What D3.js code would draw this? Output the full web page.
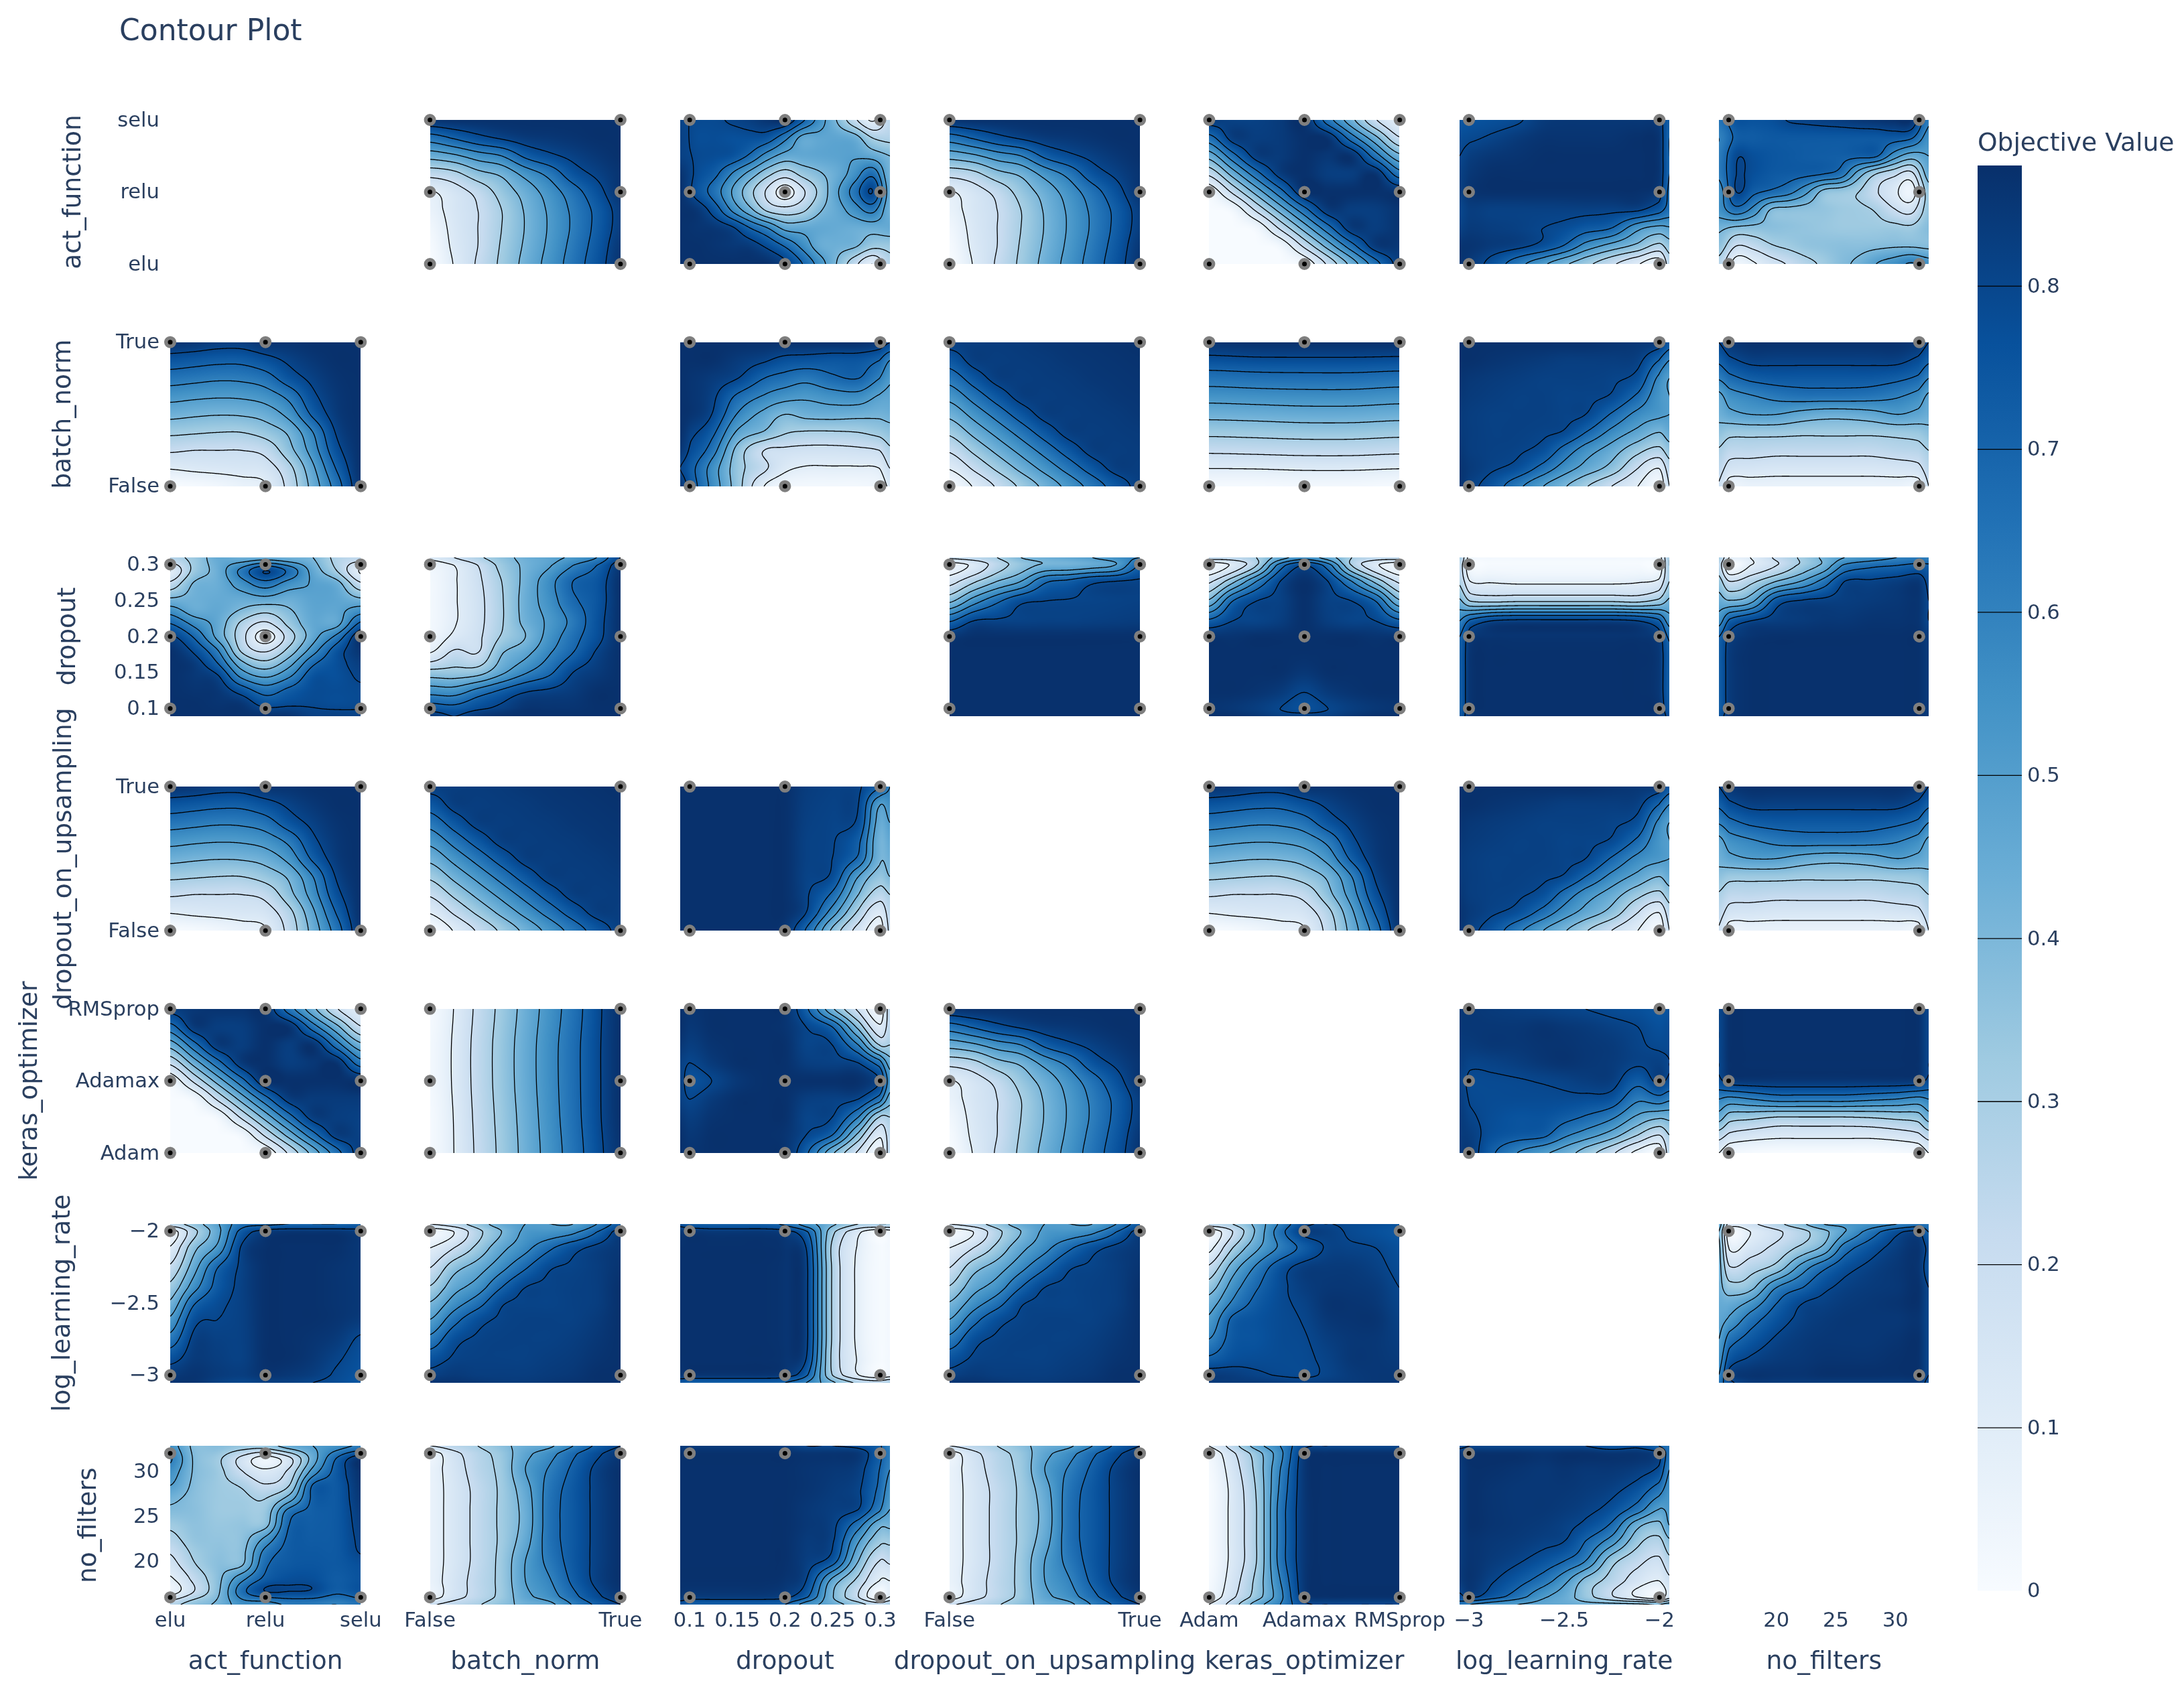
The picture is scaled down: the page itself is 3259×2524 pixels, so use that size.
<!DOCTYPE html>
<html><head><meta charset="utf-8">
<script src="https://cdnjs.cloudflare.com/ajax/libs/d3/7.8.5/d3.min.js"></script>
<style>
html,body{margin:0;padding:0;background:#fff}
#wrap{position:relative;width:3259px;height:2524px;overflow:hidden}
canvas{position:absolute}
svg{position:absolute;left:0;top:0}
text{font-family:"DejaVu Sans",sans-serif;fill:#2a3f5f}
</style></head><body><div id="wrap"></div>
<script>
const paramNames=["act_function","batch_norm","dropout","dropout_on_upsampling","keras_optimizer","log_learning_rate","no_filters"];
const actLevels=["elu","relu","selu"];
const boolLevels=["False","True"];
const dropoutValues=[0.1,0.2,0.3];
const kerasLevels=["Adam","Adamax","RMSprop"];
const lrValues=[-3,-2];
const filterValues=[16,32];
const dropoutTicks=[0.1,0.15,0.2,0.25,0.3];
const lrTicks=[-3,-2.5,-2];
const filterTicks=[20,25,30];
const contourLevels=[0.1,0.2,0.3,0.4,0.5,0.6,0.7,0.8];
const colorbarTicks=[0,0.1,0.2,0.3,0.4,0.5,0.6,0.7,0.8];
const blues=["#f7fbff","#deebf7","#c6dbef","#9ecae1","#6baed6","#4292c6","#2171b5","#08519c","#08306b"];
const zMax=0.874;

// Objective values, rows top to bottom, columns left to right.
const gridBnAct=[
[.86,.87,.87,.87,.87,.87,.87,.87,.87],
[.65,.71,.77,.81,.84,.85,.86,.87,.87],
[.44,.48,.55,.6,.72,.78,.82,.85,.87],
[.235,.27,.365,.42,.535,.63,.755,.815,.86],
[.09,.155,.23,.34,.44,.545,.655,.765,.86],
[.06,.14,.2,.3,.41,.515,.62,.725,.83],
[.03,.13,.2,.3,.405,.51,.615,.725,.83],
[.01,.12,.2,.31,.415,.52,.63,.74,.85],
[0,.105,.213,.32,.43,.535,.645,.755,.86]];
const gridDropoutAct=[
[.81,.79,.79,.81,.83,.86,.87,.72,.55,.39,.22,.09,.24],
[.82,.78,.78,.77,.77,.75,.63,.47,.47,.47,.44,.3,.27],
[.82,.79,.78,.76,.68,.55,.46,.46,.47,.48,.49,.46,.4],
[.86,.78,.72,.59,.46,.33,.25,.33,.39,.45,.55,.67,.42],
[.87,.76,.65,.49,.33,.18,.05,.18,.33,.49,.65,.8,.45],
[.87,.85,.75,.58,.43,.28,.24,.28,.39,.46,.55,.63,.43],
[.87,.86,.85,.81,.7,.6,.47,.46,.46,.45,.44,.44,.45],
[.87,.87,.86,.85,.84,.78,.69,.57,.45,.43,.41,.33,.33],
[.87,.87,.87,.87,.87,.87,.82,.7,.55,.39,.23,.1,.27]];
const gridKerasAct=[
[.84,.82,.82,.84,.87,.65,.43,.21,.09],
[.66,.83,.83,.84,.87,.86,.65,.43,.21],
[.44,.66,.83,.84,.87,.85,.86,.65,.43],
[.22,.44,.66,.83,.87,.83,.83,.86,.65],
[.03,.22,.44,.66,.86,.87,.87,.87,.86],
[0,.03,.22,.44,.66,.84,.83,.83,.86],
[0,0,.03,.22,.44,.66,.84,.83,.86],
[0,0,0,.03,.22,.44,.66,.84,.85],
[0,0,0,0,.03,.22,.44,.66,.83]];
const gridLrAct=[
[.75,.76,.77,.79,.84,.85,.85,.85,.85,.84,.72],
[.78,.79,.81,.84,.86,.86,.86,.86,.87,.86,.7],
[.8,.83,.85,.86,.87,.87,.87,.87,.87,.86,.7],
[.82,.85,.87,.87,.87,.87,.87,.87,.87,.86,.7],
[.82,.86,.87,.87,.87,.87,.87,.87,.87,.84,.68],
[.8,.83,.82,.82,.82,.82,.82,.815,.81,.74,.66],
[.82,.84,.83,.82,.8,.78,.74,.7,.53,.47,.49],
[.86,.86,.84,.82,.77,.69,.56,.46,.37,.27,.35],
[.86,.84,.77,.64,.52,.42,.33,.22,.11,.04,.25]];
const gridFiltersAct=[
[.65,.76,.76,.77,.805,.815,.825,.835,.85,.86,.87,.87,.62],
[.6,.72,.73,.74,.74,.74,.74,.74,.74,.74,.74,.71,.55],
[.62,.79,.77,.75,.74,.73,.725,.72,.72,.71,.55,.45,.5],
[.62,.8,.77,.74,.73,.72,.7,.65,.45,.3,.23,.17,.45],
[.55,.8,.72,.68,.63,.52,.37,.34,.3,.21,.13,.05,.35],
[.55,.66,.56,.39,.37,.36,.35,.33,.32,.29,.21,.17,.35],
[.42,.38,.37,.37,.36,.35,.34,.33,.33,.33,.33,.32,.38],
[.36,.2,.23,.29,.32,.35,.36,.37,.37,.38,.39,.39,.38],
[.26,.05,.09,.16,.21,.27,.32,.38,.42,.5,.55,.61,.55]];
const gridDropoutBn=[
[.87,.87,.87,.87,.87,.87,.87,.87,.87,.85,.8],
[.87,.87,.87,.84,.81,.77,.76,.75,.75,.7,.6],
[.87,.86,.84,.8,.7,.66,.63,.68,.7,.6,.52],
[.87,.86,.82,.68,.59,.54,.52,.55,.56,.49,.47],
[.87,.86,.8,.59,.47,.4,.43,.44,.43,.42,.43],
[.87,.82,.73,.48,.39,.31,.29,.29,.3,.33,.36],
[.85,.78,.65,.36,.2,.18,.17,.17,.18,.2,.28],
[.8,.73,.56,.34,.22,.12,.09,.09,.09,.1,.2],
[.85,.75,.57,.34,.1,.03,.02,.02,.02,.04,.12]];
const gridUpsamplingBn=[
[.825,.83,.835,.84,.85,.855,.86,.865,.87],
[.746,.825,.83,.835,.84,.85,.855,.86,.865],
[.64,.746,.825,.83,.835,.84,.85,.855,.86],
[.533,.64,.746,.825,.83,.835,.84,.85,.855],
[.427,.533,.64,.746,.825,.83,.835,.84,.85],
[.32,.427,.533,.64,.746,.825,.83,.835,.84],
[.213,.32,.427,.533,.64,.746,.825,.83,.835],
[.107,.213,.32,.427,.533,.64,.746,.825,.83],
[0,.107,.213,.32,.427,.533,.64,.746,.825]];
const gridKerasBn=[
[.86,.87,.87,.87,.87],
[.648,.66,.665,.665,.652],
[.432,.44,.45,.45,.437],
[.218,.225,.233,.233,.222],
[.01,.01,.02,.02,.01]];
const gridLrBn=[
[.87,.87,.87,.87,.87,.87,.87,.86,.85,.84,.75],
[.87,.87,.86,.85,.84,.83,.83,.83,.82,.7,.6],
[.86,.85,.84,.83,.82,.82,.82,.81,.77,.58,.5],
[.85,.84,.83,.82,.82,.81,.81,.79,.68,.54,.5],
[.84,.83,.82,.82,.82,.81,.8,.69,.57,.52,.5],
[.84,.83,.82,.82,.81,.79,.7,.57,.47,.4,.45],
[.85,.83,.82,.81,.77,.66,.55,.45,.33,.27,.35],
[.86,.84,.81,.77,.66,.55,.46,.36,.2,.1,.25],
[.86,.82,.76,.63,.5,.41,.31,.2,.1,.02,.2]];
const gridFiltersBn=[
[.8,.85,.87,.87,.87,.87,.87,.87,.87,.85,.8],
[.72,.78,.82,.82,.82,.82,.82,.82,.82,.78,.72],
[.61,.67,.72,.74,.74,.74,.74,.74,.72,.68,.6],
[.47,.55,.59,.63,.65,.65,.65,.64,.61,.56,.48],
[.43,.47,.5,.5,.46,.44,.44,.46,.5,.47,.44],
[.36,.33,.33,.33,.32,.32,.32,.32,.33,.34,.37],
[.29,.24,.24,.23,.23,.23,.23,.23,.25,.26,.3],
[.24,.16,.15,.14,.14,.14,.14,.14,.15,.17,.25],
[.19,.05,.06,.06,.06,.06,.06,.06,.06,.05,.2]];
const gridUpsamplingDropout=[
[.22,.25,.3,.4,.43,.46,.5,.55,.6],
[.05,.12,.25,.35,.42,.43,.46,.51,.71],
[.16,.28,.4,.5,.68,.72,.78,.8,.81],
[.38,.55,.68,.78,.8,.805,.81,.815,.82],
[.69,.8,.81,.815,.82,.82,.825,.83,.835],
[.85,.87,.87,.87,.87,.87,.87,.87,.87],
[.87,.87,.87,.87,.87,.87,.87,.87,.87],
[.87,.87,.87,.87,.87,.87,.87,.87,.87],
[.87,.87,.87,.87,.87,.87,.87,.87,.87],
[.87,.87,.87,.87,.87,.87,.87,.87,.87],
[.87,.87,.87,.87,.87,.87,.87,.87,.87]];
const gridKerasDropout=[
[.25,.25,.3,.45,.55,.45,.3,.25,.25],
[.03,.12,.3,.65,.8,.65,.3,.12,.03],
[.18,.37,.6,.8,.87,.8,.6,.37,.18],
[.42,.7,.8,.82,.87,.82,.8,.7,.42],
[.72,.8,.81,.83,.87,.83,.81,.8,.72],
[.86,.86,.87,.87,.87,.87,.87,.86,.86],
[.87,.87,.87,.87,.87,.87,.87,.87,.87],
[.87,.87,.87,.87,.85,.87,.87,.87,.87],
[.87,.87,.86,.84,.8,.84,.86,.87,.87],
[.86,.85,.83,.8,.77,.8,.83,.85,.86],
[.87,.87,.85,.82,.82,.82,.85,.87,.87]];
const gridLrDropout=[
[.3,.05,.02,.02,.02,.02,.02,.02,.02,.05,.3],
[.25,.02,.01,.01,.01,.01,.01,.01,.01,.02,.3],
[.28,.1,.09,.08,.08,.08,.08,.08,.09,.12,.3],
[.42,.3,.28,.29,.29,.29,.29,.29,.28,.33,.42],
[.6,.72,.8,.82,.82,.82,.82,.82,.8,.72,.55],
[.7,.84,.86,.86,.86,.86,.86,.86,.86,.83,.68],
[.72,.86,.87,.87,.87,.87,.87,.87,.87,.85,.72],
[.72,.86,.87,.87,.87,.87,.87,.87,.87,.85,.72],
[.72,.86,.87,.87,.87,.87,.87,.87,.87,.85,.72],
[.72,.86,.87,.87,.87,.87,.87,.87,.87,.86,.74],
[.75,.85,.87,.87,.87,.87,.87,.87,.87,.85,.78]];
const gridFiltersDropout=[
[.3,.1,.1,.22,.32,.42,.5,.55,.6,.62,.6],
[.25,0,.1,.2,.33,.43,.62,.68,.7,.73,.72],
[.34,.2,.27,.4,.51,.64,.8,.81,.83,.85,.78],
[.45,.41,.47,.75,.81,.82,.83,.84,.85,.86,.8],
[.55,.72,.8,.83,.84,.85,.85,.86,.86,.86,.8],
[.7,.82,.86,.87,.87,.87,.87,.87,.87,.87,.83],
[.72,.84,.87,.87,.87,.87,.87,.87,.87,.87,.84],
[.72,.84,.87,.87,.87,.87,.87,.87,.87,.87,.84],
[.72,.84,.87,.87,.87,.87,.87,.87,.87,.87,.84],
[.72,.84,.87,.87,.87,.87,.87,.87,.87,.87,.84],
[.76,.85,.87,.87,.87,.87,.87,.87,.87,.87,.84]];
const gridKerasLr=[
[.25,.3,.43,.62,.78,.8,.79,.78,.76],
[.02,.2,.42,.66,.82,.82,.79,.77,.75],
[.07,.3,.48,.62,.73,.81,.81,.8,.77],
[.22,.45,.62,.76,.83,.84,.84,.82,.785],
[.35,.55,.69,.78,.83,.85,.85,.84,.8],
[.45,.62,.73,.785,.815,.86,.86,.85,.81],
[.52,.72,.76,.785,.805,.85,.86,.86,.82],
[.6,.74,.76,.785,.795,.83,.85,.85,.83],
[.72,.77,.78,.785,.79,.815,.85,.85,.84],
[.84,.83,.81,.795,.79,.81,.84,.85,.85],
[.84,.84,.84,.83,.82,.83,.84,.85,.85]];
const gridKerasFilters=[
[.1,.25,.45,.6,.78,.8,.8,.8,.8],
[.03,.18,.35,.57,.84,.87,.87,.87,.87],
[.01,.15,.33,.6,.85,.87,.87,.87,.87],
[0,.13,.31,.62,.85,.87,.87,.87,.87],
[0,.13,.3,.64,.85,.87,.87,.87,.87],
[0,.13,.3,.64,.85,.87,.87,.87,.87],
[0,.13,.3,.64,.85,.87,.87,.87,.87],
[0,.13,.3,.64,.85,.87,.87,.87,.87],
[.01,.15,.33,.6,.85,.87,.87,.87,.87],
[.03,.18,.35,.57,.84,.87,.87,.87,.87],
[.1,.25,.45,.6,.78,.8,.8,.8,.8]];
const gridFiltersLr=[
[.45,.15,.18,.27,.38,.5,.52,.55,.6,.65,.65],
[.4,.03,.1,.18,.27,.37,.5,.65,.78,.82,.7],
[.42,.09,.15,.23,.33,.43,.65,.76,.83,.86,.78],
[.43,.21,.26,.34,.55,.68,.77,.82,.85,.86,.75],
[.43,.34,.37,.6,.7,.78,.82,.84,.85,.87,.8],
[.45,.45,.53,.7,.8,.82,.84,.85,.86,.87,.8],
[.47,.52,.65,.76,.82,.84,.85,.85,.85,.86,.8],
[.5,.65,.74,.81,.84,.85,.85,.85,.86,.87,.8],
[.55,.75,.81,.84,.85,.86,.86,.86,.87,.87,.8],
[.6,.82,.86,.86,.86,.87,.87,.87,.87,.87,.8],
[.65,.78,.84,.84,.84,.84,.84,.84,.84,.84,.78]];

// xp / yp are indexes into paramNames for the grid's columns / rows.
const fields=[
{xp:1,yp:0,grid:gridBnAct},{xp:2,yp:0,grid:gridDropoutAct},{xp:3,yp:0,grid:gridBnAct},
{xp:4,yp:0,grid:gridKerasAct},{xp:5,yp:0,grid:gridLrAct},{xp:6,yp:0,grid:gridFiltersAct},
{xp:2,yp:1,grid:gridDropoutBn},{xp:3,yp:1,grid:gridUpsamplingBn},{xp:4,yp:1,grid:gridKerasBn},
{xp:5,yp:1,grid:gridLrBn},{xp:6,yp:1,grid:gridFiltersBn},
{xp:3,yp:2,grid:gridUpsamplingDropout},{xp:4,yp:2,grid:gridKerasDropout},{xp:5,yp:2,grid:gridLrDropout},{xp:6,yp:2,grid:gridFiltersDropout},
{xp:3,yp:4,grid:gridBnAct},{xp:5,yp:3,grid:gridLrBn},{xp:6,yp:3,grid:gridFiltersBn},
{xp:4,yp:5,grid:gridKerasLr},{xp:4,yp:6,grid:gridKerasFilters},{xp:6,yp:5,grid:gridFiltersLr}];

const axes=[
{cat:actLevels},{cat:boolLevels},
{num:dropoutValues,ticks:dropoutTicks,fmt:d=>String(d)},
{cat:boolLevels},{cat:kerasLevels},
{num:lrValues,ticks:lrTicks,fmt:d=>String(d).replace("-","\u2212")},
{num:filterValues,ticks:filterTicks,fmt:d=>String(d)}];

const W=3259,H=2524,x0=254,stepX=387.6,spanX=284.3,y0=179,stepY=331.7,spanY=215;
const wrap=d3.select("#wrap");
const svg=wrap.append("svg").attr("width",W).attr("height",H);
const gPanels=svg.append("g"),gMarks=svg.append("g"),gAxes=svg.append("g");
const defs=svg.append("defs");

const colorScale=d3.scaleLinear().domain(blues.map((_,i)=>i/8*zMax)).range(blues).interpolate(d3.interpolateRgb).clamp(true);
const colorLut=d3.range(0,1024).map(i=>d3.rgb(colorScale(i/1023*zMax)));

function scaleFor(ax,a,b){
  if(ax.cat) return d3.scalePoint().domain(ax.cat).range([a,b]);
  return d3.scaleLinear().domain(d3.extent(ax.num)).range([a,b]);
}
const values=ax=>ax.cat||ax.num;
const knots=[0,.05,.15,.275,.4,.5,.6,.725,.85,.95,1];
function toIndex(t,n){
  t=Math.max(0,Math.min(1,t));
  if(n===11){
    let i=Math.min(9,d3.bisectRight(knots,t)-1);
    return i+(t-knots[i])/(knots[i+1]-knots[i]);
  }
  return t*(n-1);
}
function cr(p0,p1,p2,p3,t){
  return 0.5*(2*p1+(p2-p0)*t+(2*p0-5*p1+4*p2-p3)*t*t+(3*p1-p0-3*p2+p3)*t*t*t);
}
function sample(grid,u,v){
  const ny=grid.length,nx=grid[0].length;
  const fx=toIndex(u,nx),fy=toIndex(v,ny);
  const ix=Math.min(nx-2,Math.floor(fx)),iy=Math.min(ny-2,Math.floor(fy));
  const tx=fx-ix,ty=fy-iy,col=[];
  for(let j=-1;j<=2;j++){
    const r=grid[Math.max(0,Math.min(ny-1,iy+j))];
    col.push(cr(r[Math.max(0,ix-1)],r[ix],r[ix+1],r[Math.min(nx-1,ix+2)],tx));
  }
  return Math.max(0,Math.min(zMax,cr(col[0],col[1],col[2],col[3],ty)));
}

for(let r=0;r<7;r++)for(let c=0;c<7;c++){
  if(r===c)continue;
  const left=x0+c*stepX,top=y0+r*stepY;
  const ax=axes[c],ay=axes[r];
  const sx=scaleFor(ax,left,left+spanX),sy=scaleFor(ay,top+spanY,top);
  const padX=ax.num?spanX*.05:0,padY=ay.num?spanY*.05:0;
  const rx=left-padX,ry=top-padY,rw=spanX+2*padX,rh=spanY+2*padY;
  let f=fields.find(d=>d.xp===c&&d.yp===r),value;
  if(f) value=(u,v)=>sample(f.grid,u,v);
  else{f=fields.find(d=>d.xp===r&&d.yp===c);value=(u,v)=>sample(f.grid,1-v,1-u);}
  const w=Math.round(rw),h=Math.round(rh);
  const cv=wrap.insert("canvas","svg").attr("width",w).attr("height",h)
    .style("left",Math.round(rx)+"px").style("top",Math.round(ry)+"px").node();
  const ctx=cv.getContext("2d"),img=ctx.createImageData(w,h);
  for(let j=0;j<h;j++)for(let i=0;i<w;i++){
    const col=colorLut[Math.round(value((i+.5)/w,(j+.5)/h)/zMax*1023)],k=4*(j*w+i);
    img.data[k]=col.r;img.data[k+1]=col.g;img.data[k+2]=col.b;img.data[k+3]=255;
  }
  ctx.putImageData(img,0,0);
  // contour lines: sampled with a margin whose outer rim is hidden by the clip
  const m=3,gw=w+2*m,gh=h+2*m,vals=new Float64Array(gw*gh);
  for(let j=0;j<gh;j++)for(let i=0;i<gw;i++){
    vals[j*gw+i]=value((i-m+.5)/w,(j-m+.5)/h);
  }
  const cont=d3.contours().size([gw,gh]).smooth(true).thresholds(contourLevels)(vals);
  const path=d3.geoPath(d3.geoTransform({point(x,y){this.stream.point(x-m+Math.round(rx),y-m+Math.round(ry));}}));
  const id=`clip-${r}-${c}`;
  defs.append("clipPath").attr("id",id).append("rect").attr("x",Math.round(rx)).attr("y",Math.round(ry)).attr("width",w).attr("height",h);
  gPanels.append("g").attr("clip-path",`url(#${id})`).selectAll("path").data(cont).join("path")
    .attr("d",path).attr("fill","none").attr("stroke","#000").attr("stroke-width",1.3);
  // trial markers
  const pts=d3.cross(values(ax),values(ay));
  gMarks.append("g").selectAll("circle").data(pts).join("circle")
    .attr("cx",d=>sx(d[0])).attr("cy",d=>sy(d[1])).attr("r",6.25)
    .attr("fill","#000").attr("stroke","#7f7f7f").attr("stroke-width",5.5);
}

function styleAxis(g,size){
  g.select(".domain").remove();
  g.selectAll(".tick line").remove();
  g.selectAll("text").attr("font-size",size).attr("fill","#2a3f5f").style("font-family",'"DejaVu Sans",sans-serif');
}
const TICK=30.6,TITLE=37.6;
axes.forEach((ax,i)=>{
  const sx=scaleFor(ax,x0+i*stepX,x0+i*stepX+spanX);
  const a=d3.axisBottom(sx).tickSize(0).tickPadding(0).offset(0);
  if(ax.num) a.tickValues(ax.ticks).tickFormat(ax.fmt);
  const g=gAxes.append("g").attr("transform","translate(0,2406)").call(a);
  styleAxis(g,TICK);
  const sy=scaleFor(ax,y0+i*stepY+spanY,y0+i*stepY);
  const b=d3.axisLeft(sy).tickSize(0).tickPadding(0).offset(0);
  if(ax.num) b.tickValues(ax.ticks).tickFormat(ax.fmt);
  const h=gAxes.append("g").attr("transform","translate(238,0)").call(b);
  styleAxis(h,TICK);
  gAxes.append("text").attr("x",x0+i*stepX+spanX/2).attr("y",2491).attr("text-anchor","middle").attr("font-size",TITLE).text(paramNames[i]);
});
const yTitleX=[120,105,112,106,55,104,143];
paramNames.forEach((n,i)=>{
  gAxes.append("text").attr("transform",`translate(${yTitleX[i]},${y0+i*stepY+spanY/2}) rotate(-90)`).attr("text-anchor","middle").attr("font-size",TITLE).text(n);
});
gAxes.append("text").attr("x",178).attr("y",60).attr("font-size",44).text("Contour Plot");

// colour bar
const cbX=2951,cbW=66,cbTop=247,cbBottom=2374.5;
const cbY=d3.scaleLinear().domain([0,zMax]).range([cbBottom,cbTop]);
const grad=defs.append("linearGradient").attr("id","cbGrad").attr("x1",0).attr("x2",0).attr("y1",1).attr("y2",0);
grad.selectAll("stop").data(blues).join("stop").attr("offset",(d,i)=>i/8).attr("stop-color",d=>d);
const gCb=svg.append("g");
gCb.append("rect").attr("x",cbX).attr("y",cbTop).attr("width",cbW).attr("height",cbBottom-cbTop).attr("fill","url(#cbGrad)");
gCb.selectAll("line").data(contourLevels).join("line")
  .attr("x1",cbX).attr("x2",cbX+cbW).attr("y1",d=>cbY(d)).attr("y2",d=>cbY(d)).attr("stroke","#000").attr("stroke-width",1.3);
const cbAxis=d3.axisRight(cbY).tickValues(colorbarTicks).tickFormat(d=>String(d)).tickSize(0).tickPadding(0).offset(0);
const gCbAxis=gCb.append("g").attr("transform",`translate(3025,0)`).call(cbAxis);
styleAxis(gCbAxis,TICK);
gCb.append("text").attr("x",2951).attr("y",225).attr("font-size",TITLE).text("Objective Value");
</script></body></html>
